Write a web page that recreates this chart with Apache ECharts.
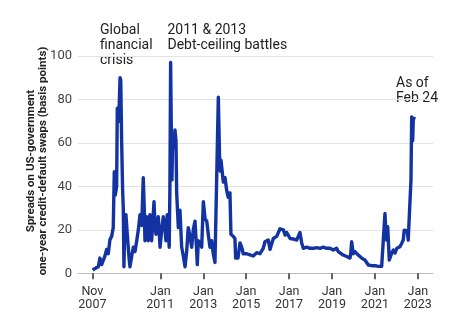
<!DOCTYPE html>
<html><head><meta charset="utf-8">
<script src="https://cdn.jsdelivr.net/npm/echarts@6/dist/echarts.min.js"></script>
<style>html,body{margin:0;padding:0;background:#fff}#c{width:453px;height:326px}</style>
</head><body><div id="c"></div>
<script>
const dates = ["2007-11-05","2008-01-02","2008-02-10","2008-03-08","2008-04-07","2008-05-04","2008-06-02","2008-07-01","2008-07-28","2008-08-26","2008-09-24","2008-10-21","2008-11-08","2008-11-25","2008-12-18","2008-12-29","2009-01-22","2009-02-14","2009-02-26","2009-03-13","2009-03-30","2009-04-10","2009-04-21","2009-05-08","2009-05-25","2009-06-17","2009-07-03","2009-07-21","2009-08-02","2009-09-01","2009-09-28","2009-10-27","2009-11-25","2009-12-22","2010-01-20","2010-02-18","2010-03-16","2010-04-02","2010-04-14","2010-05-13","2010-06-09","2010-07-08","2010-08-06","2010-09-15","2010-10-02","2010-10-18","2010-11-27","2010-12-27","2011-01-24","2011-02-20","2011-03-20","2011-04-06","2011-04-28","2011-06-01","2011-06-13","2011-06-25","2011-07-05","2011-07-17","2011-07-29","2011-08-09","2011-08-26","2011-09-07","2011-09-24","2011-10-06","2011-11-03","2011-12-01","2011-12-30","2012-01-27","2012-02-25","2012-03-24","2012-04-20","2012-05-19","2012-06-17","2012-07-14","2012-08-13","2012-09-11","2012-09-21","2012-10-08","2012-11-06","2012-12-05","2013-01-02","2013-02-01","2013-03-01","2013-03-27","2013-04-25","2013-05-24","2013-06-20","2013-07-19","2013-08-22","2013-09-14","2013-10-04","2013-10-17","2013-10-30","2013-12-08","2014-01-06","2014-02-04","2014-03-02","2014-03-31","2014-04-17","2014-05-26","2014-06-24","2014-07-06","2014-08-15","2014-09-18","2014-10-17","2014-11-13","2015-01-10","2015-03-06","2015-05-01","2015-06-28","2015-08-24","2015-10-19","2015-11-17","2016-01-13","2016-02-11","2016-04-07","2016-06-04","2016-07-30","2016-09-25","2016-10-24","2016-11-22","2017-01-17","2017-03-13","2017-05-10","2017-07-05","2017-08-03","2017-08-31","2017-10-28","2017-12-23","2018-02-18","2018-04-15","2018-06-11","2018-08-06","2018-10-03","2018-11-29","2019-01-24","2019-03-21","2019-04-17","2019-05-16","2019-07-11","2019-09-08","2019-11-04","2019-11-17","2019-12-02","2019-12-29","2020-01-28","2020-03-23","2020-05-20","2020-07-15","2020-09-11","2020-11-08","2021-01-03","2021-02-28","2021-04-26","2021-05-30","2021-06-21","2021-07-08","2021-07-20","2021-08-07","2021-09-03","2021-10-13","2021-11-10","2021-12-09","2022-01-08","2022-03-03","2022-04-01","2022-04-28","2022-05-15","2022-06-13","2022-07-05","2022-07-22","2022-08-21","2022-09-07","2022-09-19","2022-10-06","2022-10-16","2022-11-03"];
const spreads = [1.5,2.5,3,7,4,4.5,8,11,9,15.5,17,21,46.7,36,40,76,70,90,89,61,38,30,3,25,27,18,12,6,3,8,12,10,15,20,27,22,44,30,15,26,15,27,15,33,22,18,26,12,20,26,20,15,27,12,40,97,70,43,60,64,58,66,61,37,21,29,12,8,3,10,21,17,12,20,24,10,4,15,14,12,33,25,24,18,12,15,9,5,5,81,55,47,52,42,44,38,35,37,18,17,16,7,7,14,12,9,9,8.5,8,9.5,9,11.5,14.5,15.3,11,16,17,20.5,20,17.6,18.8,16,15.8,15.3,18.8,14,11.5,12,11.5,11.5,11.8,11.5,12,11.5,11.5,10.7,11.5,10,9.2,8.4,7.7,7,9.2,14.5,9,10,8.4,7,6.1,3.8,3.5,3.5,3.2,3.2,3,27.5,18,15.3,21.4,6.1,9.3,10.7,9.3,11.5,12.2,13.7,15.3,19.8,19,19.5,15.3,16,43,72,61,70.5,72];
const tickDates = ["2007-11-01","2011-01-01","2013-01-01","2015-01-01","2017-01-01","2019-01-01","2021-01-01","2023-01-01"];
const yTicks = [0,20,40,60,80,100];
const monthNames = ["Jan","Feb","Mar","Apr","May","Jun","Jul","Aug","Sep","Oct","Nov","Dec"];
const axisRange = ["2007-03-01","2023-09-17"];
const yTitle = "Spreads on US-government\none-year credit-default swaps (basis points)";
const notes = [
  {text:"Global\nfinancial\ncrisis", x:100, y:22.5},
  {text:"2011 & 2013\nDebt-ceiling battles", x:167.5, y:23},
  {text:"As of\nFeb 24", x:396, y:75.5}
];

function ts(s){const p=s.split('-').map(Number);return Date.UTC(p[0],p[1]-1,p[2]);}
const data = dates.map((d,i)=>[ts(d), spreads[i]]);
const ticks = tickDates.map(ts);

const chart = echarts.init(document.getElementById('c'), null, {renderer:'canvas'});
const font = 'Roboto, "Noto Sans", sans-serif';
chart.setOption({
  animation:false,
  textStyle:{fontFamily:font},
  grid:{left:78, right:20, top:56, bottom:52.7, containLabel:false},
  xAxis:{
    type:'value', min:ts(axisRange[0]), max:ts(axisRange[1]),
    splitLine:{show:false},
    axisLine:{show:true, lineStyle:{color:'#bdbdbd', width:1}},
    axisTick:{show:true, customValues:ticks, length:6, lineStyle:{color:'#333', width:1.5}},
    axisLabel:{customValues:ticks, margin:12, color:'#333', fontSize:12.5, lineHeight:13, fontFamily:font,
      formatter:function(v){const d=new Date(v);return monthNames[d.getUTCMonth()]+'\n'+d.getUTCFullYear();}}
  },
  yAxis:{
    type:'value', min:yTicks[0], max:yTicks[yTicks.length-1], interval:20,
    axisLine:{show:false}, axisTick:{show:false},
    splitLine:{lineStyle:{color:'#e2e2e2', width:1}},
    axisLabel:{color:'#444', fontSize:13, margin:6, fontFamily:font}
  },
  graphic:[
    {type:'text', x:37, y:161, rotation:Math.PI/2, style:{text:yTitle, fill:'#222', font:'bold 11.5px '+font, align:'center', verticalAlign:'middle', lineHeight:12.5}},
    ...notes.map(n=>({type:'text', x:n.x, y:n.y, style:{text:n.text, fill:'#222', font:'14px '+font, lineHeight:15.3, align:'left', verticalAlign:'top'}}))
  ],
  series:[{
    type:'line', data:data, showSymbol:false, symbol:'none',
    lineStyle:{color:'#1433a3', width:3.4, join:'round'},
    itemStyle:{color:'#1433a3'}
  }]
});
</script></body></html>
